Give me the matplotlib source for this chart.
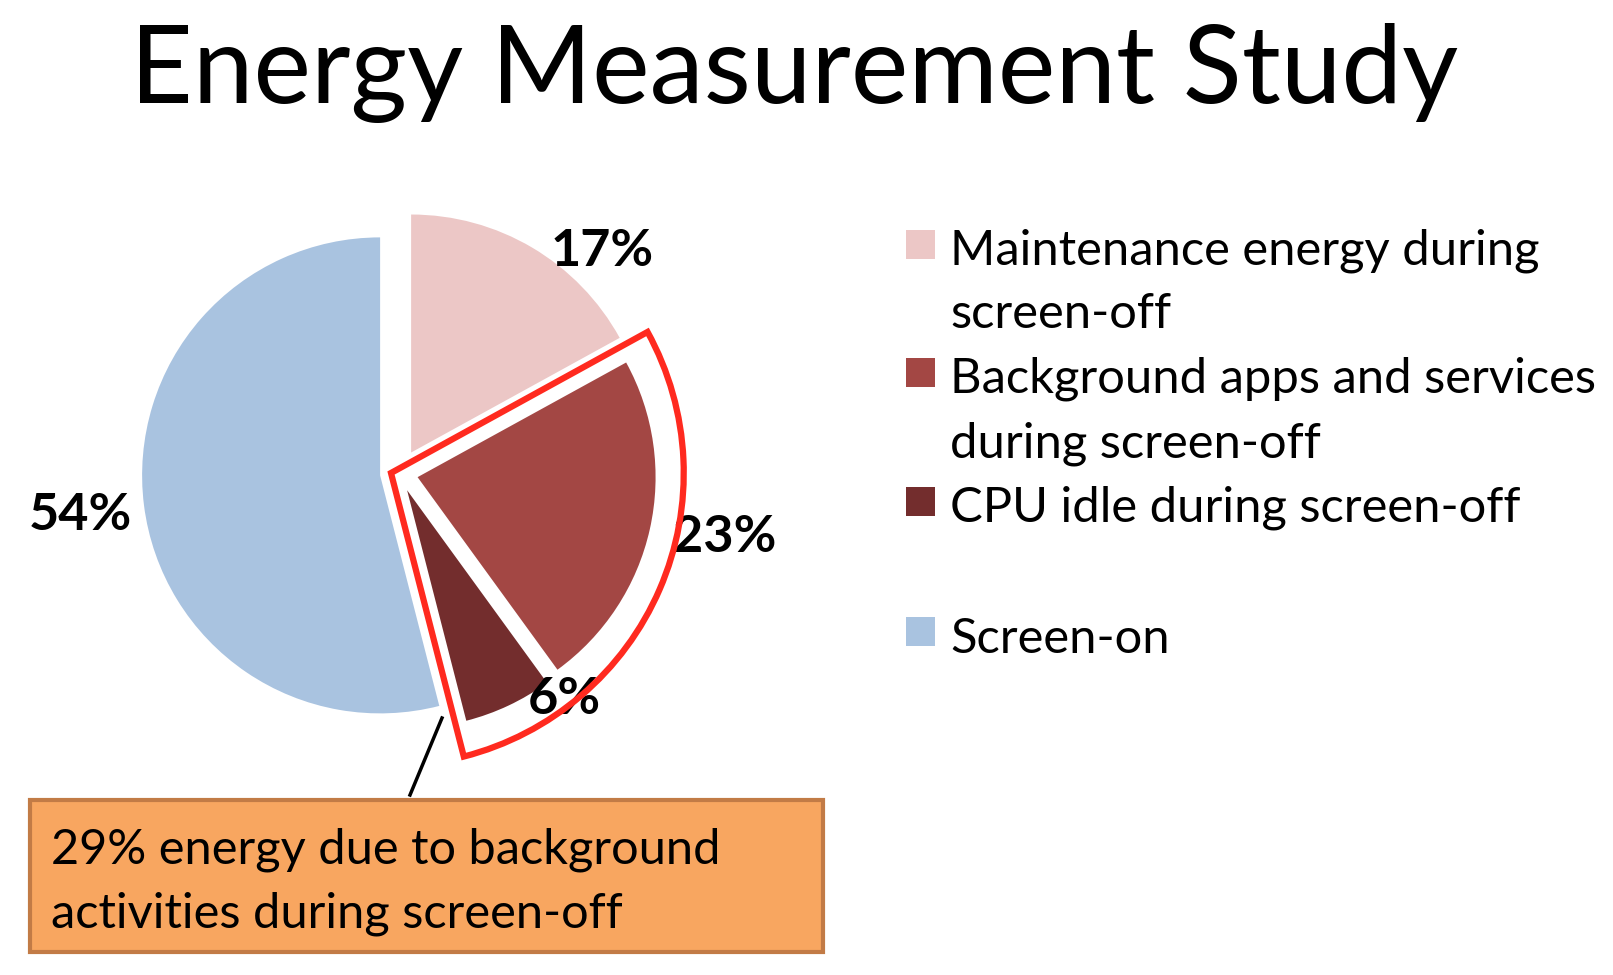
import numpy as np
import matplotlib.pyplot as plt
from matplotlib.patches import Wedge, Rectangle

title = "Energy Measurement Study"
categories = ["Maintenance energy during\nscreen-off",
              "Background apps and services\nduring screen-off",
              "CPU idle during screen-off",
              "Screen-on"]
shares = [17, 23, 6, 54]
colors = ["#ECC7C6", "#A34744", "#732D2D", "#A9C3E0"]
note_lines = ["29% energy due to background",
              "activities during screen-off"]

W, H = 1613, 975
R = 238.0            # pie radius, px
cx, cy = 399, 473    # pie centre, px from top-left

plt.rcParams['font.family'] = ['Lato', 'DejaVu Sans']

fig = plt.figure(figsize=(W / 100, H / 100), dpi=100)
ax = fig.add_axes([0, 0, 1, 1])


def px(x, y):
    # pixel position (from top-left) -> data units
    return (x - cx) / R, (cy - y) / R


def fit(t, width):
    r = fig.canvas.get_renderer()
    w = t.get_window_extent(r).width
    t.set_fontsize(t.get_fontsize() * width / w)
    return t.get_fontsize()


wedges, _ = ax.pie(shares, colors=colors, startangle=90, counterclock=False,
                   explode=[0.1, 0.08, 0.08, 0.08], radius=1, center=(0, 0),
                   wedgeprops=dict(linewidth=0))

ax.set_xlim(-cx / R, (W - cx) / R)
ax.set_ylim(-(H - cy) / R, cy / R)
ax.set_aspect('equal')
ax.axis('off')

# percentage labels
label_pos = [(602, 252), (725, 537), (564, 700), (80, 515)]
lab_texts = []
for s, (x, y) in zip(shares, label_pos):
    t = ax.text(*px(x, y), f"{s}%", ha='center', va='center',
                fontsize=40, fontweight='bold', color='black')
    lab_texts.append(t)
lsize = fit(lab_texts[3], 103)
for t in lab_texts:
    t.set_fontsize(lsize)

# red outline round the screen-off background slices
cum = np.cumsum([0] + shares) / 100 * 360
t2 = 90 - cum[1]
t1 = 90 - cum[3]
ax.add_patch(Wedge(px(391, 473), 1.23, t1, t2, fill=False, ec='#FF2A1F',
                   lw=4.5, joinstyle='miter', zorder=3))

# connector to the note box
a = px(442, 718)
b = px(410, 795)
ax.plot([a[0], b[0]], [a[1], b[1]], color='black', lw=2.5)

# note box
x0, y0 = px(30, 952)
ax.add_patch(Rectangle((x0, y0), (823 - 30) / R, (952 - 800) / R,
                       fc='#F8A660', ec='#C27B46', lw=3, zorder=2))
nt = []
for line, base in zip(note_lines, [863, 927]):
    nt.append(ax.text(*px(51, base), line, ha='left', va='baseline',
                      fontsize=30, zorder=4))
nsize = fit(nt[0], 670)
for t in nt:
    t.set_fontsize(nsize)

# legend
square_top = [230, 358, 487, 617]
baselines = [[265, 328], [393, 457], [522], [653]]
leg_texts = []
for cat, col, top, bases in zip(categories, colors, square_top, baselines):
    ax.add_patch(Rectangle(px(906, top + 29), 29 / R, 29 / R, fc=col, lw=0))
    for line, base in zip(cat.split("\n"), bases):
        leg_texts.append(ax.text(*px(950, base), line, ha='left',
                                 va='baseline', fontsize=30))
gsize = fit(leg_texts[2], 645)
for t in leg_texts:
    t.set_fontsize(gsize)

# title
tt = ax.text(*px(794, 103), title, ha='center', va='baseline', fontsize=80)
fit(tt, 1328)

fig.savefig("out.png", dpi=100)
